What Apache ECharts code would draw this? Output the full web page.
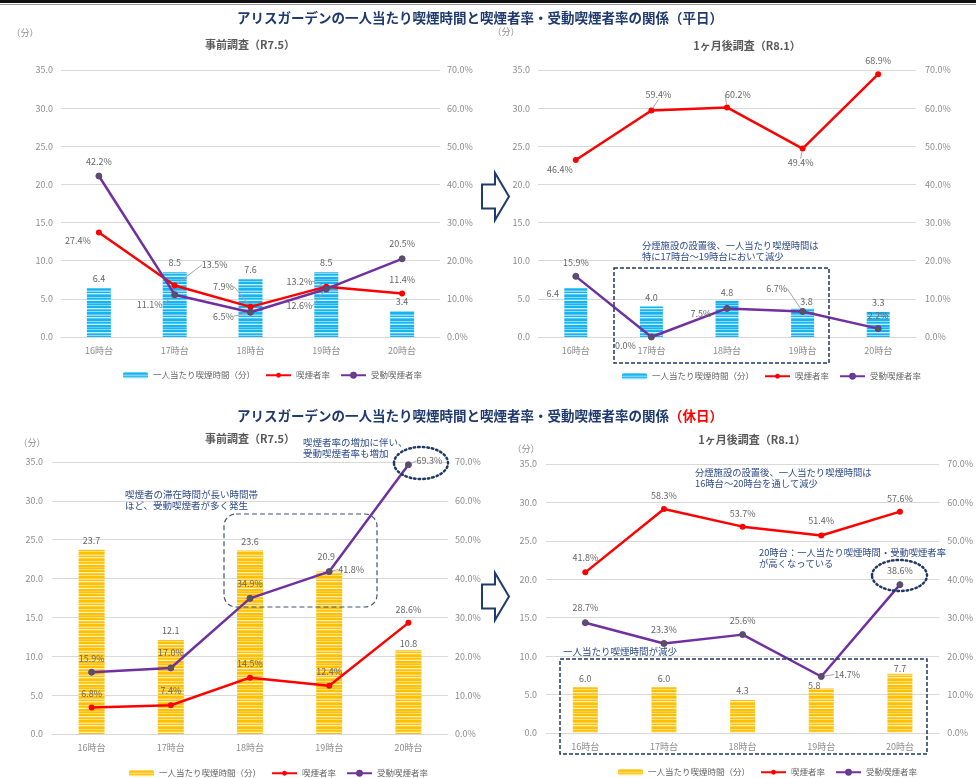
<!DOCTYPE html>
<html>
<head>
<meta charset="utf-8">
<script src="https://cdn.jsdelivr.net/npm/echarts@6/dist/echarts.min.js"></script>
<style>
html, body { margin: 0; padding: 0; background: #fff; }
#main { width: 976px; height: 778px; }
</style>
</head>
<body>
<div id="main"></div>
<script>
// categories & axis ticks
var hours = ['16時台', '17時台', '18時台', '19時台', '20時台'];
var minuteTicks = [0, 5, 10, 15, 20, 25, 30, 35];
var rateTicks = [0, 10, 20, 30, 40, 50, 60, 70];

// 平日 事前調査 (R7.5)
var wdBeforeTime = [6.4, 8.5, 7.6, 8.5, 3.4];
var wdBeforeSmoker = [27.4, 13.5, 7.9, 13.2, 11.4];
var wdBeforePassive = [42.2, 11.1, 6.5, 12.6, 20.5];
// 平日 1ヶ月後調査 (R8.1)
var wdAfterTime = [6.4, 4.0, 4.8, 3.8, 3.3];
var wdAfterSmoker = [46.4, 59.4, 60.2, 49.4, 68.9];
var wdAfterPassive = [15.9, 0.0, 7.5, 6.7, 2.2];
// 休日 事前調査 (R7.5)
var hdBeforeTime = [23.7, 12.1, 23.6, 20.9, 10.8];
var hdBeforeSmoker = [6.8, 7.4, 14.5, 12.4, 28.6];
var hdBeforePassive = [15.9, 17.0, 34.9, 41.8, 69.3];
// 休日 1ヶ月後調査 (R8.1)
var hdAfterTime = [6.0, 6.0, 4.3, 5.8, 7.7];
var hdAfterSmoker = [41.8, 58.3, 53.7, 51.4, 57.6];
var hdAfterPassive = [28.7, 23.3, 25.6, 14.7, 38.6];

var barName = '一人当たり喫煙時間（分）';
var smokerName = '喫煙者率';
var passiveName = '受動喫煙者率';

var NAVY = '#1f3a6e';
var NOTE = '#2f4b8a';
var GRAY = '#666';
var AXIS = '#8c8c8c';

function stripes(rows) {
    var c = document.createElement('canvas');
    c.width = 4;
    c.height = rows.length;
    var g = c.getContext('2d');
    for (var i = 0; i < rows.length; i++) {
        g.fillStyle = rows[i];
        g.fillRect(0, i, 4, 1);
    }
    return { image: c, repeat: 'repeat' };
}
var B = ['#14b4f0', '#55c8f4', '#92d9f7', '#cdeefb'];
var Y = ['#ffc000', '#ffcf3a', '#ffdf80', '#fff0c4'];
function seq(p) {
    var idx = [0, 0, 1, 2, 0, 3, 1, 0, 0, 2, 0, 1, 3, 0, 0, 1, 0, 2, 0, 0, 3, 1, 0, 2];
    return idx.map(function (k) { return p[k]; });
}
var bluePattern = stripes(seq(B));
var yellowPattern = stripes(seq(Y));

// label nudges [dx, dy, leader]
var panels = [
    {
        grid: { left: 61, top: 70, width: 379, height: 267 }, barWidth: 24, pattern: bluePattern,
        time: wdBeforeTime, smoker: wdBeforeSmoker, passive: wdBeforePassive,
        barNudge: [[0, 0], [0, 0], [0, 0], [0, 0], [0, 0]],
        smokerNudge: [[-21, 21, 0], [40, -8, 1], [-27, -8, 1], [-27, 7, 1], [0, -1, 0]],
        passiveNudge: [[0, -1, 0], [-25, 23, 1], [-27, 17, 1], [-27, 30, 1], [0, -2, 0]],
        legendLeft: 118, legendTop: 366, lm: 8, rm: 7
    },
    {
        grid: { left: 538, top: 70, width: 378, height: 267 }, barWidth: 23, pattern: bluePattern,
        time: wdAfterTime, smoker: wdAfterSmoker, passive: wdAfterPassive,
        barNudge: [[-23, 15], [0, 1], [0, 2], [4, 3], [0, 0]],
        smokerNudge: [[-16, 22, 0], [7, -3, 1], [11, 0, 1], [-2, 27, 1], [0, -1, 0]],
        passiveNudge: [[0, -1, 0], [-26, 22, 0], [-26, 18, 0], [-26, -10, 1], [0, 0, 0]],
        legendLeft: 617, legendTop: 367, lm: 8, rm: 9
    },
    {
        grid: { left: 52, top: 462, width: 396, height: 272 }, barWidth: 26, pattern: yellowPattern,
        time: hdBeforeTime, smoker: hdBeforeSmoker, passive: hdBeforePassive,
        barNudge: [[0, 0], [0, 0], [0, 0], [-3, -5], [0, 3]],
        smokerNudge: [[0, -1, 0], [0, -2, 0], [0, -2, 0], [0, -2, 0], [0, -1, 0]],
        passiveNudge: [[0, -1, 0], [0, -2, 0], [0, -2, 0], [22, 11, 1], [21, 9, 1]],
        legendLeft: 124, legendTop: 764, lm: 9, rm: 7
    },
    {
        grid: { left: 546, top: 464, width: 394, height: 269 }, barWidth: 25, pattern: yellowPattern,
        time: hdAfterTime, smoker: hdAfterSmoker, passive: hdAfterPassive,
        barNudge: [[0, 1], [0, 1], [0, 0], [-7, 7], [0, 4]],
        smokerNudge: [[0, -2, 0], [0, -1, 0], [0, -1, 0], [0, -2, 0], [0, -1, 0]],
        passiveNudge: [[0, -2, 0], [0, -1, 0], [0, -1, 0], [26, 11, 1], [0, -1, 0]],
        legendLeft: 613, legendTop: 763, lm: 9, rm: 8
    }
];

var grids = [], xAxes = [], yAxes = [], series = [], legends = [];

function nudger(arr) {
    return function (p) {
        var d = arr[p.dataIndex];
        return { dx: d[0], dy: d[1] };
    };
}

function lineData(values, nudge) {
    return values.map(function (v, i) {
        return { value: v, labelLine: { show: !!nudge[i][2] } };
    });
}

panels.forEach(function (p, i) {
    grids.push(p.grid);
    xAxes.push({
        type: 'category', gridIndex: i, data: hours,
        axisLine: { lineStyle: { color: '#d9d9d9' } },
        axisTick: { show: false },
        axisLabel: { fontSize: 9, color: AXIS, margin: 9 }
    });
    yAxes.push({
        type: 'value', gridIndex: i, position: 'left',
        min: minuteTicks[0], max: minuteTicks[minuteTicks.length - 1], interval: minuteTicks[1] - minuteTicks[0],
        axisLine: { show: false }, axisTick: { show: false },
        splitLine: { lineStyle: { color: '#d9d9d9' } },
        axisLabel: { fontSize: 9, color: AXIS, margin: p.lm, formatter: function (v) { return v.toFixed(1); } }
    });
    yAxes.push({
        type: 'value', gridIndex: i, position: 'right',
        min: rateTicks[0], max: rateTicks[rateTicks.length - 1], interval: rateTicks[1] - rateTicks[0],
        axisLine: { show: false }, axisTick: { show: false },
        splitLine: { show: false },
        axisLabel: { fontSize: 9, color: AXIS, margin: p.rm, formatter: function (v) { return v.toFixed(1) + '%'; } }
    });
    series.push({
        type: 'bar', name: barName, xAxisIndex: i, yAxisIndex: 2 * i,
        data: p.time, barWidth: p.barWidth,
        itemStyle: { color: p.pattern },
        label: {
            show: true, position: 'top', distance: 5, fontSize: 9, color: GRAY,
            formatter: function (q) { return q.value.toFixed(1); }
        },
        labelLayout: nudger(p.barNudge)
    });
    series.push({
        type: 'line', name: smokerName, xAxisIndex: i, yAxisIndex: 2 * i + 1,
        data: lineData(p.smoker, p.smokerNudge),
        symbol: 'circle', symbolSize: 6,
        lineStyle: { width: 2.5, color: '#ff0000' },
        itemStyle: { color: '#ff0000' },
        label: {
            show: true, position: 'top', distance: 5, fontSize: 9, color: GRAY,
            formatter: function (q) { return q.value.toFixed(1) + '%'; }
        },
        labelLine: { lineStyle: { color: '#a6a6a6', width: 1 } },
        labelLayout: nudger(p.smokerNudge),
        z: 3
    });
    series.push({
        type: 'line', name: passiveName, xAxisIndex: i, yAxisIndex: 2 * i + 1,
        data: lineData(p.passive, p.passiveNudge),
        symbol: 'circle', symbolSize: 6,
        lineStyle: { width: 2.5, color: '#7030a0' },
        itemStyle: { color: '#4a5e50', borderColor: '#7030a0', borderWidth: 1 },
        label: {
            show: true, position: 'top', distance: 5, fontSize: 9, color: GRAY,
            formatter: function (q) { return q.value.toFixed(1) + '%'; }
        },
        labelLine: { lineStyle: { color: '#a6a6a6', width: 1 } },
        labelLayout: nudger(p.passiveNudge),
        z: 4
    });
    legends.push({
        left: p.legendLeft, top: p.legendTop,
        itemWidth: 25, itemHeight: 6, itemGap: 10,
        textStyle: { fontSize: 8.5, color: GRAY },
        selectedMode: false,
        data: [
            { name: barName, itemStyle: { color: p.pattern } },
            { name: smokerName },
            { name: passiveName }
        ]
    });
});

function txt(x, y, text, size, color, extra) {
    var s = {
        text: text, x: x, y: y, fill: color, fontSize: size,
        fontFamily: 'Noto Sans CJK JP', textAlign: 'left', textVerticalAlign: 'middle'
    };
    for (var k in extra) s[k] = extra[k];
    return { type: 'text', z: 100, style: s };
}

function arrow(cy) {
    return {
        type: 'polygon', z: 100,
        shape: { points: [[482, cy - 12], [495, cy - 12], [495, cy - 23.5], [509, cy], [495, cy + 23.5], [495, cy + 12], [482, cy + 12]] },
        style: { fill: '#fff', stroke: NAVY, lineWidth: 2 }
    };
}

var titleRich = {
    a: { fontSize: 13.5, fontWeight: 'bold', fill: NAVY, fontFamily: 'Noto Sans CJK JP' },
    r: { fontSize: 13.5, fontWeight: 'bold', fill: '#ff0000', fontFamily: 'Noto Sans CJK JP' }
};

var graphics = [
    { type: 'rect', z: 100, shape: { x: 0, y: 0, width: 976, height: 3 }, style: { fill: '#111' } },
    { type: 'line', z: 100, shape: { x1: 0, y1: 4.5, x2: 976, y2: 4.5 }, style: { stroke: '#999', lineWidth: 1 } },
    txt(480, 18, 'アリスガーデンの一人当たり喫煙時間と喫煙者率・受動喫煙者率の関係（平日）', 13.5, NAVY, { fontWeight: 'bold', textAlign: 'center' }),
    {
        type: 'text', z: 100,
        style: {
            text: '{a|アリスガーデンの一人当たり喫煙時間と喫煙者率・受動喫煙者率の関係}{r|（休日）}',
            rich: titleRich, x: 480, y: 416, textAlign: 'center', textVerticalAlign: 'middle'
        }
    },
    txt(250, 45, '事前調査（R7.5）', 11, '#595959', { fontWeight: 'bold', textAlign: 'center' }),
    txt(747, 46, '1ヶ月後調査（R8.1）', 11, '#595959', { fontWeight: 'bold', textAlign: 'center' }),
    txt(250, 439, '事前調査（R7.5）', 11, '#595959', { fontWeight: 'bold', textAlign: 'center' }),
    txt(752, 440, '1ヶ月後調査（R8.1）', 11, '#595959', { fontWeight: 'bold', textAlign: 'center' }),
    txt(25, 33, '（分）', 9, AXIS, { textAlign: 'center' }),
    txt(506, 32, '（分）', 9, AXIS, { textAlign: 'center' }),
    txt(32, 443, '（分）', 9, AXIS, { textAlign: 'center' }),
    txt(526, 449, '（分）', 9, AXIS, { textAlign: 'center' }),
    arrow(196.5),
    arrow(596.5),
    // weekday after notes
    txt(642, 251, '分煙施設の設置後、一人当たり喫煙時間は\n特に17時台～19時台において減少', 9.3, NOTE, { lineHeight: 11 }),
    {
        type: 'rect', z: 100, shape: { x: 614, y: 268, width: 215, height: 95 },
        style: { fill: 'none', stroke: '#1f3864', lineWidth: 1.5, lineDash: [4, 2] }
    },
    // holiday before notes
    txt(125, 500, '喫煙者の滞在時間が長い時間帯\nほど、受動喫煙者が多く発生', 9.5, NOTE, { lineHeight: 11 }),
    {
        type: 'rect', z: 100, shape: { x: 224, y: 514, width: 153, height: 93, r: 12 },
        style: { fill: 'none', stroke: '#44546a', lineWidth: 1.2, lineDash: [5, 3] }
    },
    txt(303, 448, '喫煙者率の増加に伴い、\n受動喫煙者率も増加', 9.5, NOTE, { lineHeight: 11 }),
    {
        type: 'ellipse', z: 100, shape: { cx: 421, cy: 463, rx: 27, ry: 16 },
        style: { fill: 'none', stroke: '#1f3864', lineWidth: 2.5, lineDash: [1.5, 3], lineCap: 'round' }
    },
    // holiday after notes
    txt(695, 478, '分煙施設の設置後、一人当たり喫煙時間は\n16時台～20時台を通して減少', 9.3, NOTE, { lineHeight: 11 }),
    txt(759, 558, '20時台：一人当たり喫煙時間・受動喫煙者率\nが高くなっている', 9.3, NOTE, { lineHeight: 11 }),
    {
        type: 'ellipse', z: 100, shape: { cx: 899.5, cy: 575.5, rx: 27.5, ry: 15.5 },
        style: { fill: 'none', stroke: '#1f3864', lineWidth: 2.5, lineDash: [1.5, 3], lineCap: 'round' }
    },
    txt(563, 651, '一人当たり喫煙時間が減少', 9.5, NOTE, {}),
    {
        type: 'rect', z: 100, shape: { x: 560, y: 659, width: 367, height: 95 },
        style: { fill: 'none', stroke: '#1f3864', lineWidth: 1.5, lineDash: [4, 2] }
    }
];

var myChart = echarts.init(document.getElementById('main'));
var option = {
    animation: false,
    textStyle: { fontFamily: 'Noto Sans CJK JP' },
    grid: grids,
    xAxis: xAxes,
    yAxis: yAxes,
    legend: legends,
    series: series,
    graphic: graphics
};
myChart.setOption(option);
</script>
</body>
</html>
